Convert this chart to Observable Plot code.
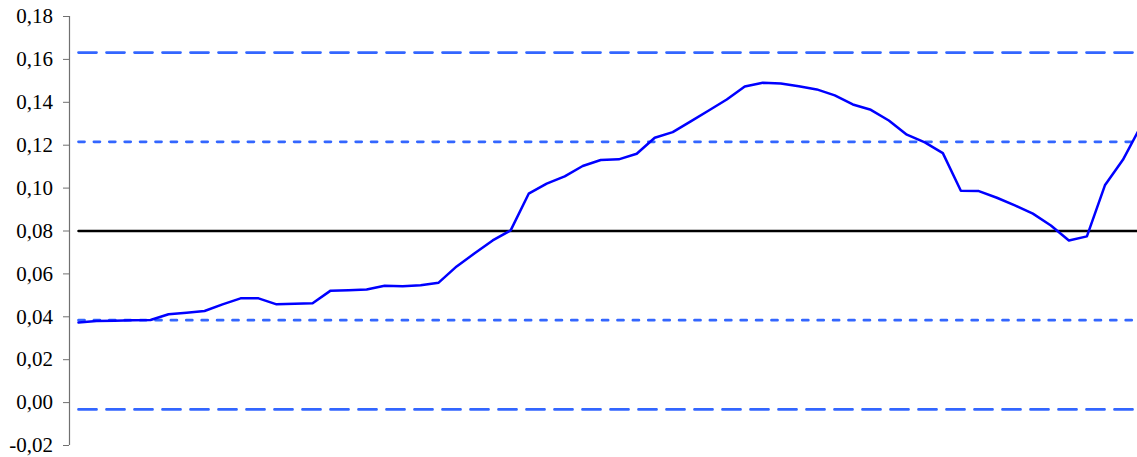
<!DOCTYPE html>
<html>
<head>
<meta charset="utf-8">
<script src="https://cdn.jsdelivr.net/npm/d3@7"></script>
<script src="https://cdn.jsdelivr.net/npm/@observablehq/plot@0.6"></script>
<style>
  html, body { margin: 0; padding: 0; background: #fff; }
  #chart svg { display: block; }
  #chart svg, #chart svg text { font-family: "Liberation Serif", "Times New Roman", serif !important; font-size: 21px; }
</style>
</head>
<body>
<div id="chart"></div>
<script>
// Series values (one per period, index = position)
const values = [
  0.0373, 0.0380, 0.0382, 0.0384, 0.0385, 0.0412, 0.0419, 0.0427, 0.0458, 0.0486,
  0.0486, 0.0458, 0.0461, 0.0463, 0.0522, 0.0524, 0.0527, 0.0545, 0.0542, 0.0547,
  0.0559, 0.0635, 0.0696, 0.0756, 0.0803, 0.0974, 0.1021, 0.1055, 0.1103, 0.1131,
  0.1134, 0.1160, 0.1235, 0.1261, 0.1311, 0.1362, 0.1413, 0.1474, 0.1491, 0.1488,
  0.1475, 0.1460, 0.1432, 0.1390, 0.1365, 0.1315, 0.1249, 0.1213, 0.1163, 0.0988,
  0.0986, 0.0955, 0.0919, 0.0881, 0.0826, 0.0756, 0.0775, 0.1013, 0.1132, 0.1289
];
const centerLine = 0.08;
const innerLimits = [0.0384, 0.1216];
const outerLimits = [-0.0032, 0.1632];
const yTicks = [-0.02, 0, 0.02, 0.04, 0.06, 0.08, 0.10, 0.12, 0.14, 0.16, 0.18];

const rows = values.map((v, i) => ({i, v}));
const fmt = d => d.toFixed(2).replace(".", ",");
const limitLine = (val, dash) =>
  Plot.line(rows, {x: "i", y: () => val, stroke: "#3366FF", strokeWidth: 2.75,
                   strokeDasharray: dash, clip: true});

const chart = Plot.plot({
  width: 1137,
  height: 457,
  marginLeft: 69,
  marginRight: 0,
  marginTop: 16,
  marginBottom: 12,
  style: "font-family: 'Liberation Serif', serif; font-size: 21px; color: black; background: white;",
  x: {domain: [-0.5, 58.81], axis: null},
  y: {domain: [-0.02, 0.18]},
  marks: [
    Plot.axisY({ticks: yTicks, tickFormat: fmt, tickSize: 6, tickPadding: 10.5, stroke: "#707070", fill: "black", label: null}),
    Plot.ruleX([-0.5], {y1: -0.02, y2: 0.18, stroke: "#707070", strokeWidth: 1.2}),
    limitLine(outerLimits[1], "18,10"),
    limitLine(outerLimits[0], "18,10"),
    limitLine(innerLimits[1], "6,9.4"),
    limitLine(innerLimits[0], "6,9.4"),
    Plot.line(rows, {x: "i", y: () => centerLine, stroke: "black", strokeWidth: 2.5, clip: true}),
    Plot.line(rows, {x: "i", y: "v", stroke: "#0000FF", strokeWidth: 2.5, clip: true})
  ]
});
document.getElementById("chart").appendChild(chart);
</script>
</body>
</html>
